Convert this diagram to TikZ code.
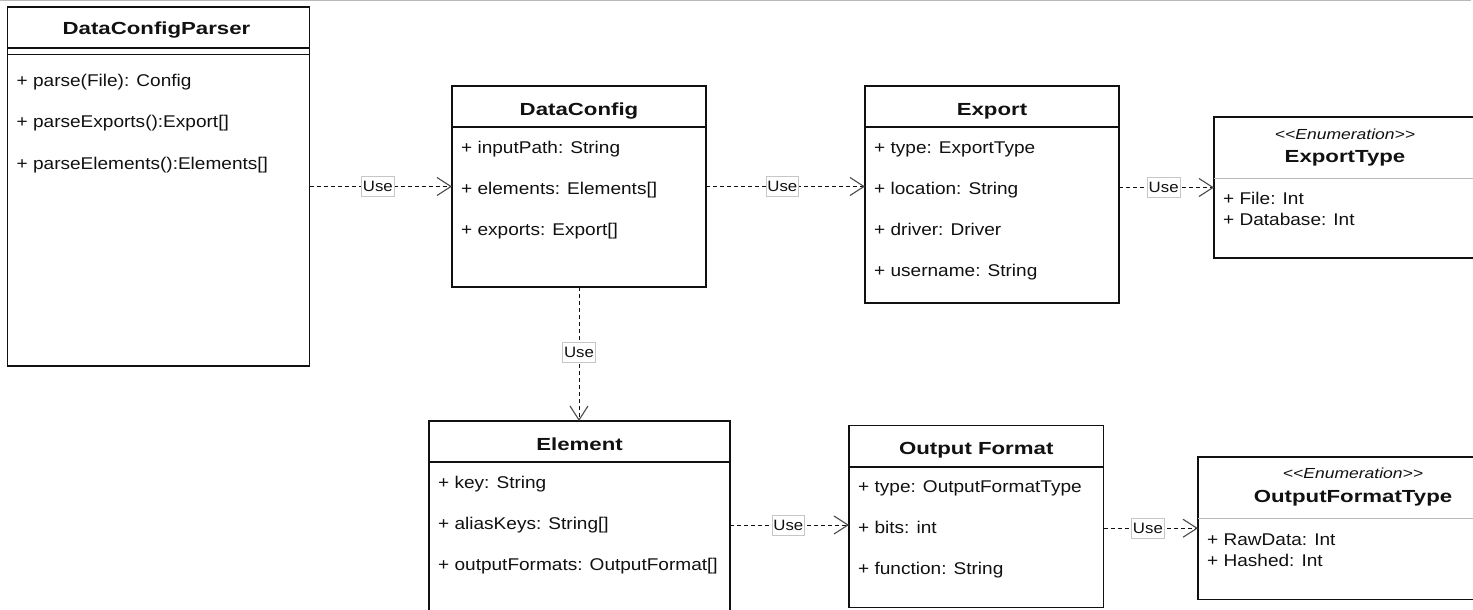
\documentclass[tikz,border=0pt]{standalone}
\usepackage{fontspec}
\setmainfont{Liberation Sans}
\newfontfamily\attrfont{Liberation Sans}[FakeStretch=1.12]
\newfontfamily\titlefont{Liberation Sans}[FakeStretch=1.27]
\newfontfamily\stereofont{Liberation Sans}[FakeStretch=1.2]
\usetikzlibrary{arrows.meta}
\definecolor{ink}{HTML}{111111}
\definecolor{tipgray}{HTML}{4A4A4A}
\begin{document}
\begin{tikzpicture}[x=1pt,y=-1pt,
  classbox/.style={draw=ink, line width=1.3pt, fill=white, inner sep=0pt, outer sep=0pt, anchor=north west},
  divider/.style={draw=ink, line width=1.3pt},
  lightdivider/.style={draw=gray!55, line width=1pt},
  attr/.style={anchor=base west, inner sep=0pt, text=ink, font=\attrfont\fontsize{17}{20}\selectfont},
  ctitle/.style={anchor=base, inner sep=0pt, text=ink, font=\titlefont\bfseries\fontsize{17.5}{21}\selectfont},
  stereo/.style={anchor=base, inner sep=0pt, text=ink, font=\stereofont\itshape\fontsize{14.6}{17}\selectfont},
  usedep/.style={draw=ink, line width=1pt, dash pattern=on 4pt off 3pt,
    -{Straight Barb[length=14pt, width=18pt, line width=1.1pt, color=tipgray]}},
  uselabel/.style={solid, draw=gray!45, fill=white, line width=0.7pt, inner xsep=1.5pt, inner ysep=0pt,
    minimum height=20pt, text=ink, font=\attrfont\fontsize{15}{17}\selectfont}
]
\useasboundingbox (0,0) rectangle (1473,610);
\clip (0,0) rectangle (1473,610);

% top rule
\draw[gray!55, line width=1.5pt] (0,0.75) -- (1471,0.75);

% ---------- DataConfigParser ----------
\node[classbox, minimum width=302pt, minimum height=359pt] (dcp) at (7.5,7) {};
\draw[divider] ([yshift=-41pt]dcp.north west) -- ([yshift=-41pt]dcp.north east);
\draw[divider] ([yshift=-47.5pt]dcp.north west) -- ([yshift=-47.5pt]dcp.north east);
\node[ctitle] (dcpT) at ([xshift=-2pt, yshift=-28pt]dcp.north) {DataConfigParser};
\node[attr] (dcpA1) at ([xshift=9pt, yshift=-80pt]dcp.north west) {+ parse(File): Config};
\node[attr] (dcpA2) at ([xshift=9pt, yshift=-121pt]dcp.north west) {+ parseExports():Export[]};
\node[attr] (dcpA3) at ([xshift=9pt, yshift=-162pt]dcp.north west) {+ parseElements():Elements[]};

% ---------- DataConfig ----------
\node[classbox, minimum width=254pt, minimum height=201pt] (dc) at (452,86) {};
\draw[divider] ([yshift=-41pt]dc.north west) -- ([yshift=-41pt]dc.north east);
\node[ctitle] (dcT) at ([yshift=-29pt]dc.north) {DataConfig};
\node[attr] (dcA1) at ([xshift=9pt, yshift=-67pt]dc.north west) {+ inputPath: String};
\node[attr] (dcA2) at ([xshift=9pt, yshift=-108pt]dc.north west) {+ elements: Elements[]};
\node[attr] (dcA3) at ([xshift=9pt, yshift=-149pt]dc.north west) {+ exports: Export[]};

% ---------- Export ----------
\node[classbox, minimum width=254pt, minimum height=217pt] (ex) at (865,86) {};
\draw[divider] ([yshift=-41pt]ex.north west) -- ([yshift=-41pt]ex.north east);
\node[ctitle] (exT) at ([yshift=-29pt]ex.north) {Export};
\node[attr] (exA1) at ([xshift=9pt, yshift=-67pt]ex.north west) {+ type: ExportType};
\node[attr] (exA2) at ([xshift=9pt, yshift=-108pt]ex.north west) {+ location: String};
\node[attr] (exA3) at ([xshift=9pt, yshift=-149pt]ex.north west) {+ driver: Driver};
\node[attr] (exA4) at ([xshift=9pt, yshift=-190pt]ex.north west) {+ username: String};

% ---------- ExportType ----------
\node[classbox, minimum width=262pt, minimum height=141pt] (et) at (1214,117) {};
\draw[lightdivider] ([yshift=-61pt]et.north west) -- ([yshift=-61pt]et.north east);
\node[stereo] (etS) at ([yshift=-22pt]et.north) {<<Enumeration>>};
\node[ctitle] (etT) at ([yshift=-45pt]et.north) {ExportType};
\node[attr] (etA1) at ([xshift=9pt, yshift=-87pt]et.north west) {+ File: Int};
\node[attr] (etA2) at ([xshift=9pt, yshift=-108pt]et.north west) {+ Database: Int};

% ---------- Element ----------
\node[classbox, minimum width=301pt, minimum height=208pt] (el) at (429,421) {};
\draw[divider] ([yshift=-41pt]el.north west) -- ([yshift=-41pt]el.north east);
\node[ctitle] (elT) at ([yshift=-29pt]el.north) {Element};
\node[attr] (elA1) at ([xshift=9pt, yshift=-67pt]el.north west) {+ key: String};
\node[attr] (elA2) at ([xshift=9pt, yshift=-108pt]el.north west) {+ aliasKeys: String[]};
\node[attr] (elA3) at ([xshift=9pt, yshift=-149pt]el.north west) {+ outputFormats: OutputFormat[]};

% ---------- Output Format ----------
\node[classbox, minimum width=254.5pt, minimum height=182pt] (of) at (849,425.5) {};
\draw[divider] ([yshift=-41.5pt]of.north west) -- ([yshift=-41.5pt]of.north east);
\node[ctitle] (ofT) at ([yshift=-28.5pt]of.north) {Output Format};
\node[attr] (ofA1) at ([xshift=9pt, yshift=-67pt]of.north west) {+ type: OutputFormatType};
\node[attr] (ofA2) at ([xshift=9pt, yshift=-108pt]of.north west) {+ bits: int};
\node[attr] (ofA3) at ([xshift=9pt, yshift=-149pt]of.north west) {+ function: String};

% ---------- OutputFormatType ----------
\node[classbox, minimum width=310pt, minimum height=142.5pt] (oft) at (1198,457) {};
\draw[lightdivider] ([yshift=-61.5pt]oft.north west) -- ([yshift=-61.5pt]oft.north east);
\node[stereo] (oftS) at ([yshift=-21.5pt]oft.north) {<<Enumeration>>};
\node[ctitle] (oftT) at ([yshift=-45pt]oft.north) {OutputFormatType};
\node[attr] (oftA1) at ([xshift=9pt, yshift=-88pt]oft.north west) {+ RawData: Int};
\node[attr] (oftA2) at ([xshift=9pt, yshift=-109.5pt]oft.north west) {+ Hashed: Int};

% ---------- dependencies ----------
\draw[usedep] (dcp.east |- dc.west) -- node[uselabel, pos=0.48] (u1) {Use} (dc.west);
\draw[usedep] (dc.east) -- node[uselabel, pos=0.48] (u2) {Use} (ex.west |- dc.east);
\draw[usedep] (ex.east |- et.west) -- node[uselabel, pos=0.47] (u3) {Use} (et.west);
\draw[usedep] (dc.south) -- node[uselabel, pos=0.49] (u4) {Use} (dc.south |- el.north);
\draw[usedep] (el.east) -- node[uselabel, pos=0.49] (u5) {Use} (of.west |- el.east);
\draw[usedep] (of.east |- oft.west) -- node[uselabel, pos=0.47] (u6) {Use} (oft.west);
\end{tikzpicture}
\end{document}
